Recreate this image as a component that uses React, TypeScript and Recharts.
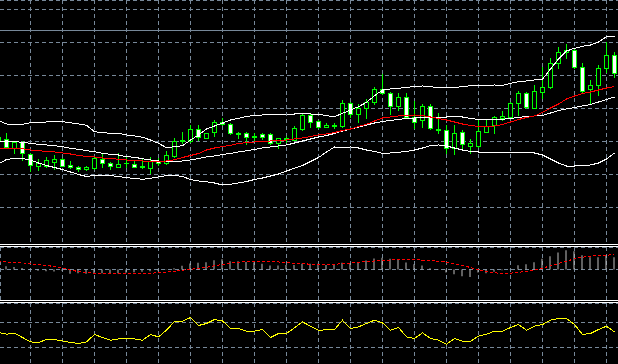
import { ComposedChart, Bar, Line, XAxis, YAxis, CartesianGrid, ReferenceLine } from 'recharts';

const GRID = '#778899';
const LIME = '#00ff00';

// bar index -1 is the partly hidden candle at the left edge
const opens = [
  110,
  110.7, 102.3, 107.7, 95.7, 84.3, 84.3, 88.3, 90.7, 85, 82.7,
  80.7, 82.3, 91.3, 86.7, 83.3, 86.7, 86, 82.7, 82.3, 89.3,
  87.3, 94, 109, 109, 120.7, 112.3, 117.7, 127.7, 125.7, 116.7,
  116.7, 113.3, 116, 116, 106.7, 110.7, 110, 120.7, 135, 129,
  122.7, 124.7, 124.3, 146.7, 135.7, 141.7, 147.7, 161, 156.7, 144.3,
  152.7, 133.3, 130, 144, 120.7, 120, 102.3, 117.7, 104, 104,
  118.3, 125, 132.3, 133.3, 146.7, 156.7, 142.3, 158.3, 163.3, 186.7,
  197.7, 200, 183.3, 160.7, 165, 181.7, 195,
];
const highs = [
  114,
  116.7, 108, 109, 97.3, 91, 93.3, 95, 92.3, 89, 84,
  84, 93.3, 96.7, 87.7, 97.3, 94, 89, 92.3, 93, 92,
  99, 112.3, 118.3, 125, 125, 117.3, 130, 131.7, 126.7, 117.7,
  117.7, 117.3, 117.3, 116.7, 112.3, 114, 124, 136, 136.7, 130,
  127.3, 127.3, 150, 148.3, 145.7, 150.7, 163.3, 175.7, 158.3, 156.7,
  156.7, 149, 145.7, 145.7, 136.7, 125, 125, 120, 110.7, 130,
  130, 134.3, 139, 148.3, 159.3, 158.3, 165, 183.3, 191.7, 203.3,
  206, 201.7, 186.7, 170, 185, 208.3, 198.3,
];
const lows = [
  109,
  102.3, 97.3, 90, 79, 80, 82.7, 80.7, 84, 82.3, 79,
  80, 81.3, 83.3, 80.7, 83, 82.7, 82.7, 82.5, 76.7, 85,
  85.7, 93.5, 107.3, 108.3, 110, 112, 114.3, 125, 115.7, 111.7,
  105.7, 109, 111, 105.7, 101.7, 108.3, 109.7, 120.3, 123.3, 121.7,
  122.5, 121.7, 123.3, 133.3, 128.3, 131.7, 145.7, 155.7, 135.7, 140,
  132.3, 121.7, 123.3, 121, 116.7, 96.7, 95.7, 100.7, 97.3, 103.5,
  118, 116.7, 130, 132.3, 135, 141.7, 141.7, 151.7, 161.7, 181.7,
  191.7, 181.7, 156.7, 146.7, 155, 178.3, 173.3,
];
const closes = [
  113.3,
  102.7, 107.7, 96.7, 85, 86.7, 90, 90.7, 84.3, 82.7, 80.7,
  82.7, 92.3, 86.7, 84, 86, 87, 83.3, 84, 89, 86.7,
  95, 109, 110, 120.7, 112.7, 116.7, 127.7, 125.7, 116.7, 116.5,
  113.3, 113.5, 113.3, 106.7, 111.7, 112.3, 121.7, 135, 128.3, 122.7,
  125, 124.3, 146.7, 135.7, 142.3, 148.3, 161, 156.7, 144.3, 152.7,
  133.3, 127.7, 144, 121.7, 120.3, 101.7, 116.7, 106, 106.7, 119,
  123.7, 132.7, 134.3, 147, 156.7, 143, 159, 163, 186.7, 197.7,
  200, 183.3, 159.3, 165, 181.7, 195, 177.3,
];

const upperBand = [
  129.3,
  126, 125.7, 125.7, 127.3, 127.3, 128, 128.3, 128.3, 127.3, 126,
  124.7, 118.3, 117.3, 116.7, 116.7, 115, 114, 112.7, 110, 106.7,
  102.3, 103.3, 104.3, 110, 115, 121, 124, 127, 130, 131.7,
  133.5, 134.5, 135, 135.5, 135.5, 136, 136, 136.7, 136, 135.7,
  134.3, 133.3, 136.7, 140, 143.3, 147.7, 154.3, 160, 161, 161.7,
  162.7, 163.3, 164, 163.3, 162.3, 162, 162.5, 163.3, 164.3, 164.3,
  164.5, 165, 164.7, 166.7, 168.3, 169, 170, 170.7, 181, 191,
  199, 201.7, 203.7, 205, 208, 213.3, 213.7,
];
const middleBand = [
  108.3,
  108.3, 108.3, 107.7, 106.7, 105.7, 105, 104.3, 103.3, 101.7, 100.7,
  99.3, 98.3, 96.7, 95.7, 95, 93.3, 92.7, 91.3, 90, 89,
  88.3, 88.3, 89, 90, 91.5, 93, 94, 95.5, 96.5, 98,
  99.3, 100.5, 102, 103, 104, 105, 107, 109, 111, 113,
  114.5, 116.5, 119, 121, 123, 125, 127, 128.5, 129.5, 130.5,
  131.5, 132, 132.5, 133, 133, 133, 133.5, 133, 131.5, 130.5,
  130.5, 130.5, 130.7, 131.5, 132.5, 133.5, 134, 134.5, 137, 139.5,
  141, 142.5, 144, 145.5, 148, 150.5, 153,
];
const lowerBand = [
  86,
  90.5, 91.7, 91.5, 90, 87, 84.5, 82.5, 80.5, 78, 75.5,
  73.5, 74.5, 74.7, 74.3, 73.5, 72.3, 71.5, 70.7, 71.7, 73,
  74.5, 74.5, 73.5, 70.5, 69, 68.3, 67, 65, 65.7, 67,
  68.5, 70.5, 72, 74, 76, 79, 81.7, 84.5, 88.5, 92.5,
  98, 103, 102.5, 103, 102, 100, 98.5, 96.7, 97, 97.7,
  98.5, 100, 102, 104.5, 105, 104, 102, 100, 98.5, 98,
  98, 97.7, 97.5, 97.5, 97.3, 97.3, 97, 95, 91, 87,
  84, 84, 84.3, 85, 87, 91, 97,
];
const redMa = [
  101.8,
  101.7, 101.5, 101.2, 100, 99.3, 98.5, 98, 97, 96, 94.5,
  93.5, 93, 92, 91.5, 90.7, 90, 89.5, 89, 88.7, 88.7,
  89, 90.3, 92.5, 94.5, 96.5, 100, 102, 103.5, 104.7, 106.5,
  107.3, 108, 108.5, 109, 109.5, 110, 111, 112, 113.5, 115,
  116, 117.5, 119.5, 121, 123.5, 125.7, 129, 132, 133, 134,
  134.5, 135, 134.5, 133, 131.5, 130, 128, 126, 124.5, 123.5,
  123.5, 124, 125.5, 128, 130.5, 132.5, 134, 137.5, 142, 146,
  151, 154, 156.5, 158, 160, 162, 163.5,
];

const macdMain = [
  null,
  3.3, 2.5, 1.5, -0.5, -1.3, -1.7, -2, -1.3, -4.2, -3.8,
  -4.2, -3.8, -3.8, -3.8, -3.8, -3.2, -2.7, -2.3, -1.8, -1.2,
  0.3, 1.3, 3.7, 6, 6.7, 7.3, 9.2, 10.2, 8.3, 8.3,
  7.5, 7, 5.8, 4, 4, 4.5, 4.5, 5.8, 5.8, 5.8,
  4.5, 4.5, 6.7, 6.5, 7.3, 9, 11, 11.7, 10.7, 9.8,
  7, 5.3, 4, 1.3, -0.5, -3, -4.7, -6.7, -7.5, -3,
  -3.8, -2.2, -0.8, 0.3, 4.2, 5.3, 7.3, 10.7, 13.2, 17,
  19.2, 18.3, 14.2, 12.3, 12.3, 14, 12.3,
];
const macdSignal = [
  7.7,
  7.5, 7, 6.7, 5.7, 4.7, 4, 3, 1.7, -0.7, -2,
  -3, -3.7, -4, -4, -4, -4, -4, -3.8, -3.7, -3.3,
  -2.7, -1.7, -0.7, 0.3, 1, 2.3, 3.7, 5, 6.3, 7.3,
  7.8, 8, 8, 7.8, 7.5, 7, 6.3, 5.8, 5.3, 5.3,
  5.3, 5.3, 5.7, 6.5, 7.2, 8, 8.5, 9, 9.5, 9.8,
  10, 10, 9.3, 8.8, 8.3, 7.3, 5.3, 4, 2, -0.3,
  -2.3, -3.3, -4, -3.7, -2.7, -2, -0.7, 1.3, 3.7, 6,
  8.3, 10.7, 12.3, 13.3, 14, 14.3, 15,
];
const rsi = [
  54,
  51.3, 52.9, 46, 39, 38, 42.8, 42.8, 40.6, 38, 36.4,
  39, 50.8, 46, 41.7, 43.8, 43.8, 43.8, 41.7, 50.8, 47,
  57.7, 71.6, 72.1, 78, 65.2, 68.4, 74.8, 72.6, 60.4, 60.4,
  56.1, 56.1, 58.8, 46, 52.4, 52.4, 61.4, 71, 64.1, 57.7,
  58.2, 58.8, 73.7, 60.4, 63, 68.4, 73.7, 69.4, 57.7, 62,
  47, 44.4, 53.4, 44.4, 41.7, 35.3, 44.4, 40.1, 40.1, 48.1,
  51.3, 56.1, 56.1, 62, 66.8, 57.7, 64.1, 66.8, 73.7, 76.4,
  76.4, 66.8, 50.8, 52.4, 58.8, 64.1, 55,
];

const priceLevels = [9.5, 42.5, 75.5, 108.5, 141.5, 174.5, 207.5, 240.5];
const lastLine = 219.5;
const rsiLevels = [30, 70];

const rows = opens.map((open, n) => ({
  i: n - 1,
  open,
  high: highs[n],
  low: lows[n],
  close: closes[n],
  upper: upperBand[n],
  middle: middleBand[n],
  lower: lowerBand[n],
  red: redMa[n],
  macd: macdMain[n],
  signal: macdSignal[n],
  rsi: rsi[n],
}));

const X_DOMAIN: [number, number] = [-0.8125, 76.4375];
const gridBars = Array.from({ length: 19 }, (_, n) => 3 + 4 * n);
const margin = { top: 0, right: 0, bottom: 0, left: 0 };

function Candle(props: any) {
  const { x, y, width, height, payload } = props;
  if (!payload || height == null) return null;
  const { open, close, high, low } = payload;
  const top = Math.min(y, y + height);
  const ppu = Math.abs(height) / (high - low || 1);
  const at = (v: number) => Math.round(top + (high - v) * ppu) + 0.5;
  const cx = Math.floor(x + width / 2) + 0.5;
  const yo = at(open);
  const yc = at(close);
  const bodyTop = Math.min(yo, yc);
  const bodyBot = Math.max(yo, yc);
  return (
    <g shapeRendering="crispEdges">
      <line x1={cx} x2={cx} y1={at(high) - 0.5} y2={at(low) + 0.5} stroke={LIME} />
      {bodyBot - bodyTop < 1 ? (
        <line x1={cx - 2.5} x2={cx + 2.5} y1={yo} y2={yo} stroke={LIME} />
      ) : (
        <rect
          x={cx - 2}
          y={bodyTop}
          width={4}
          height={bodyBot - bodyTop}
          fill={close > open ? '#000' : '#fff'}
          stroke={LIME}
        />
      )}
    </g>
  );
}

const sep = {
  height: 3,
  borderTop: '1px solid #fff',
  borderBottom: '1px solid #fff',
  boxSizing: 'border-box' as const,
  background: '#000',
};

// terminal-style aliased 1px lines
const css = 'body{margin:0;background:#000}.recharts-line-curve,.recharts-cartesian-grid line{shape-rendering:crispEdges}';

export default function App() {
  return (
    <div style={{ width: 618, height: 364, background: '#000', overflow: 'hidden' }}>
      <style>{css}</style>
      <ComposedChart width={618} height={244} data={rows} margin={margin}>
        <XAxis dataKey='i' type='number' domain={X_DOMAIN} ticks={gridBars} allowDataOverflow hide />
        <YAxis type='number' domain={[6, 250]} ticks={priceLevels} allowDataOverflow hide />
        <CartesianGrid stroke={GRID} strokeDasharray='4 3' />
        <ReferenceLine y={lastLine} stroke={GRID} shapeRendering='crispEdges' />
        <Bar
          dataKey={(d: any) => [d.low, d.high]}
          barSize={5}
          shape={(p: any) => <Candle {...p} />}
          isAnimationActive={false}
        />
        <Line dataKey='upper' stroke='#fff' dot={false} activeDot={false} isAnimationActive={false} />
        <Line dataKey='middle' stroke='#fff' dot={false} activeDot={false} isAnimationActive={false} />
        <Line dataKey='lower' stroke='#fff' dot={false} activeDot={false} isAnimationActive={false} />
        <Line dataKey='red' stroke='#ff0000' dot={false} activeDot={false} isAnimationActive={false} />
      </ComposedChart>
      <div style={sep} />
      <ComposedChart width={618} height={53} data={rows} margin={margin}>
        <XAxis dataKey='i' type='number' domain={X_DOMAIN} ticks={gridBars} allowDataOverflow hide />
        <YAxis type='number' domain={[-30.5, 22.5]} ticks={[0]} allowDataOverflow hide />
        <CartesianGrid stroke={GRID} strokeDasharray='4 3' />
        <Bar dataKey='macd' barSize={1} fill='#c0c0c0' isAnimationActive={false} />
        <Line
          dataKey='signal'
          stroke='#ff0000'
          strokeDasharray='3 2'
          dot={false}
          activeDot={false}
          isAnimationActive={false}
        />
      </ComposedChart>
      <div style={sep} />
      <ComposedChart width={618} height={61} data={rows} margin={margin}>
        <XAxis dataKey='i' type='number' domain={X_DOMAIN} ticks={gridBars} allowDataOverflow hide />
        <YAxis type='number' domain={[3.6, 101.2]} ticks={rsiLevels} allowDataOverflow hide />
        <CartesianGrid stroke={GRID} strokeDasharray='4 3' />
        <Line dataKey='rsi' stroke='#ffff00' dot={false} activeDot={false} isAnimationActive={false} />
      </ComposedChart>
    </div>
  );
}
